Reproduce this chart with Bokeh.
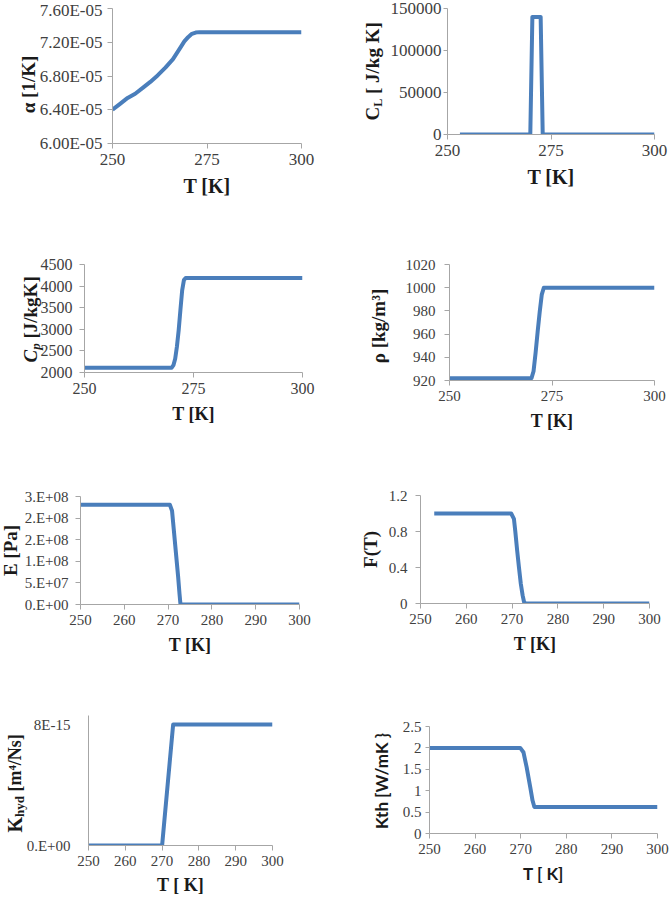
import math
from bokeh.plotting import figure
from bokeh.models import Range1d, FixedTicker, CustomJSTickFormatter, GridBox
from bokeh.layouts import column, row
from bokeh.core.properties import value
from bokeh.embed import file_html
from bokeh.resources import INLINE

# ---------------- data ----------------
T_alpha = [250, 252, 254, 256, 258, 260, 262, 264, 266, 268, 269, 270, 271, 272, 273, 275, 300]
alpha = [6.40e-5, 6.47e-5, 6.54e-5, 6.59e-5, 6.66e-5, 6.73e-5, 6.81e-5, 6.90e-5, 7.00e-5,
         7.14e-5, 7.21e-5, 7.26e-5, 7.30e-5, 7.315e-5, 7.32e-5, 7.32e-5, 7.32e-5]
alpha_ticks = [6.0e-5, 6.4e-5, 6.8e-5, 7.2e-5, 7.6e-5]
alpha_labels = ["6.00E-05", "6.40E-05", "6.80E-05", "7.20E-05", "7.60E-05"]

T_CL = [253, 270, 270.5, 272.5, 273, 300]
CL = [0, 0, 140000, 140000, 0, 0]
CL_ticks = [0, 50000, 100000, 150000]
CL_labels = ["0", "50000", "100000", "150000"]

T_Cp = [250, 270, 270.4, 270.8, 271.2, 271.6, 272.0, 272.4, 272.8, 273.2, 300]
Cp = [2110, 2110, 2170, 2320, 2600, 2980, 3450, 3900, 4140, 4190, 4190]
Cp_ticks = [2000, 2500, 3000, 3500, 4000, 4500]
Cp_labels = ["2000", "2500", "3000", "3500", "4000", "4500"]

T_rho = [250, 270, 270.5, 271, 271.5, 272, 272.5, 273, 300]
rho = [922, 922, 928, 944, 962, 979, 994, 1000, 1000]
rho_ticks = [920, 940, 960, 980, 1000, 1020]
rho_labels = ["920", "940", "960", "980", "1000", "1020"]

T_E = [250, 270.4, 270.9, 271.3, 271.7, 272.0, 272.3, 272.6, 272.8, 273, 300]
E = [2.31e8, 2.31e8, 2.17e8, 1.73e8, 1.29e8, 0.96e8, 0.63e8, 0.25e8, 0.03e8, 0, 0]
E_ticks = [0, 5e7, 1e8, 1.5e8, 2e8, 2.5e8]
E_labels = ["0.E+00", "5.E+07", "1.E+08", "2.E+08", "2.E+08", "3.E+08"]

T_F = [253, 269.8, 270.4, 270.7, 271.1, 271.5, 271.9, 272.3, 272.6, 272.9, 300]
F = [1, 1, 0.94, 0.80, 0.59, 0.40, 0.22, 0.09, 0.02, 0, 0]
F_ticks = [0, 0.4, 0.8, 1.2]
F_labels = ["0", "0.4", "0.8", "1.2"]

T_K = [250, 270, 273, 300]
Khyd = [0, 0, 8e-15, 8e-15]
K_ticks = [0, 8e-15]
K_labels = ["0.E+00", "8E-15"]

T_Kth = [250, 269.9, 270.6, 271.3, 272.1, 272.6, 273, 300]
Kth = [2.0, 2.0, 1.9, 1.55, 1.08, 0.77, 0.62, 0.62]
Kth_ticks = [0, 0.5, 1, 1.5, 2, 2.5]
Kth_labels = ["0", "0.5", "1", "1.5", "2", "2.5"]

x_ticks_a = [250, 275, 300]
x_ticks_b = [250, 260, 270, 280, 290, 300]

NB = "\u00a0"
# vertical axis titles: (text, font size, style, font, page x centre, page y centre)
y_titles = [
    ("α [1/K]", "19px", "bold", "Liberation Serif", 28, 84),
    ("C", "19px", "bold", "Liberation Serif", 372, 113.1),
    ("L", "12px", "bold", "Liberation Serif", 377, 102.3),
    (NB + "[ J/kg K]", "19px", "bold", "Liberation Serif", 372, 60.0),
    ("C", "19px", "bold italic", "Liberation Serif", 30, 355.7),
    ("p", "13px", "bold italic", "Liberation Serif", 35, 346.0),
    (NB + "[J/kgK]", "19px", "bold", "Liberation Serif", 30, 309.3),
    ("ρ [kg/m³]", "19px", "bold", "Liberation Serif", 378, 325.5),
    ("E [Pa]", "19px", "bold", "Liberation Serif", 10, 550),
    ("F(T)", "19px", "bold", "Liberation Serif", 370, 549),
    ("K", "20px", "bold", "Liberation Serif", 14, 824.2),
    ("hyd", "13px", "bold", "Liberation Serif", 19, 806.0),
    (NB + "[m⁴/Ns]", "18px", "bold", "Liberation Serif", 14, 764.6),
    ("Kth [W/mK }", "17px", "bold", "Lato", 381, 780.5),
]

LINE = "#4a7ebb"
AXC = "#a6a6a6"
TICKC = "#404040"
TITLEC = "#1a1a1a"
SERIF = "Liberation Serif"
PAGE_W, PAGE_H = 669, 900


def make(w, h, mb, xt, yr, yt, ylab, tick_size, y_standoff, y_tick_out, xtitle,
         xtitle_font=SERIF, xtitle_size="18px", xt_standoff=7):
    p = figure(width=w, height=h, x_range=Range1d(250, 300), y_range=Range1d(*yr),
               output_backend="svg", toolbar_location=None,
               min_border_left=mb[0], min_border_right=mb[1],
               min_border_top=mb[2], min_border_bottom=mb[3])
    p.xgrid.visible = False
    p.ygrid.visible = False
    p.outline_line_color = None
    p.background_fill_color = "white"
    p.border_fill_color = "white"
    for ax in (p.xaxis[0], p.yaxis[0]):
        ax.axis_line_color = AXC
        ax.axis_line_width = 1
        ax.major_tick_line_color = AXC
        ax.minor_tick_line_color = None
        ax.major_tick_in = 0
        ax.major_tick_out = 5
        ax.major_label_text_font = SERIF
        ax.major_label_text_color = TICKC
        ax.major_label_text_font_size = tick_size
    p.xaxis.ticker = FixedTicker(ticks=xt)
    p.yaxis.ticker = FixedTicker(ticks=yt)
    p.yaxis.formatter = CustomJSTickFormatter(args=dict(labels=ylab),
                                              code="return labels[index];")
    p.yaxis.major_label_standoff = y_standoff
    p.yaxis.major_tick_out = y_tick_out
    p.xaxis.major_label_standoff = 5
    p.xaxis.axis_label = xtitle
    p.xaxis.axis_label_text_font = xtitle_font
    p.xaxis.axis_label_text_font_style = "bold"
    p.xaxis.axis_label_text_font_size = xtitle_size
    p.xaxis.axis_label_text_color = TITLEC
    p.xaxis.axis_label_standoff = xt_standoff
    return p


p1 = make(335, 228, (112, 34, 8, 85), x_ticks_a, (6.0e-5, 7.6e-5), alpha_ticks,
          alpha_labels, "17px", 5, 5, "T [K]", xtitle_size="20px")
p1.line(T_alpha, alpha, line_color=LINE, line_width=4, line_join="round")

p2 = make(334, 228, (112, 15, 8, 94), x_ticks_a, (0, 150000), CL_ticks,
          CL_labels, "17px", 2, 4, "T [K]", xtitle_size="20px")
p2.line(T_CL, CL, line_color=LINE, line_width=4, line_join="round")

p3 = make(335, 225, (84, 33, 36, 81), x_ticks_a, (2000, 4500), Cp_ticks,
          Cp_labels, "16px", 7, 5, "T [K]")
p3.line(T_Cp, Cp, line_color=LINE, line_width=4, line_join="round")

p4 = make(334, 225, (114, 15, 36, 73), x_ticks_a, (920, 1020), rho_ticks,
          rho_labels, "15px", 9, 5, "T [K]")
p4.line(T_rho, rho, line_color=LINE, line_width=4, line_join="round")

p5 = make(335, 225, (80, 36, 43, 74), x_ticks_b, (0, 2.5e8), E_ticks,
          E_labels, "15px", 7, 5, "T [K]")
p5.line(T_E, E, line_color=LINE, line_width=4, line_join="round")

p6 = make(334, 225, (85, 20, 42, 75), x_ticks_b, (0, 1.2), F_ticks,
          F_labels, "15px", 8, 5, "T [K]")
p6.line(T_F, F, line_color=LINE, line_width=4, line_join="round")

p7 = make(335, 222, (88, 63, 37, 55), x_ticks_b, (0, 8.6e-15), K_ticks,
          K_labels, "15px", 18, 0, "T [ K]", xt_standoff=6)
p7.line(T_K, Khyd, line_color=LINE, line_width=4, line_join="round")

p8 = make(334, 222, (94, 12, 48, 67), x_ticks_b, (0, 2.5), Kth_ticks,
          Kth_labels, "15px", 4, 4, "T [ K]", xtitle_font="Lato", xtitle_size="17px",
          xt_standoff=6)
p8.line(T_Kth, Kth, line_color=LINE, line_width=4, line_join="round")

# each panel wrapped on its own so that Bokeh does not align their frames
panels = column(row(column(p1), column(p2)), row(column(p3), column(p4)),
                row(column(p5), column(p6)), row(column(p7), column(p8)))

# transparent overlay carrying the vertical axis titles (page pixel coordinates)
ov = figure(width=PAGE_W, height=PAGE_H, x_range=Range1d(0, PAGE_W),
            y_range=Range1d(0, PAGE_H), output_backend="svg", toolbar_location=None,
            x_axis_location=None, y_axis_location=None,
            min_border_left=0, min_border_right=0, min_border_top=0, min_border_bottom=0)
ov.xgrid.visible = False
ov.ygrid.visible = False
ov.outline_line_color = None
ov.background_fill_color = None
ov.border_fill_color = None
for text, size, style, font, px, py in y_titles:
    ov.text(x=[px], y=[PAGE_H - py], text=[text], angle=math.pi / 2,
            text_font=value(font), text_font_size=value(size),
            text_font_style=style, text_align="center", text_baseline="middle",
            text_color=TITLEC)

grid = GridBox(children=[(panels, 0, 0), (column(ov), 0, 0)])

open("out.html", "w").write(file_html(grid, INLINE))
